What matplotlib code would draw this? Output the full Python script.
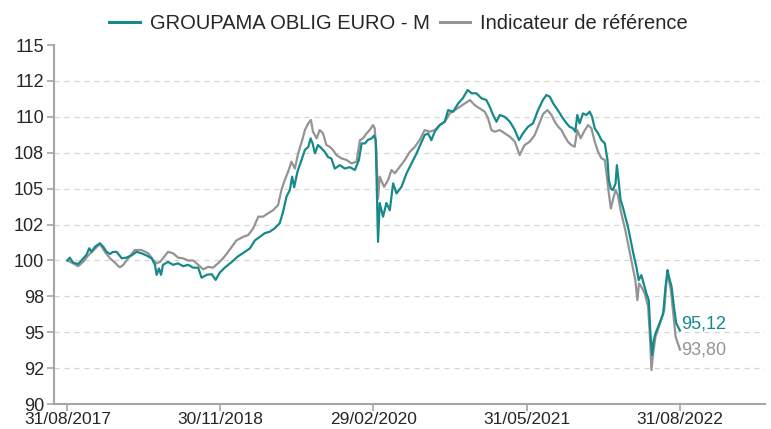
import matplotlib
matplotlib.use('Agg')
import matplotlib.pyplot as plt
import pandas as pd

plt.rcParams['font.family'] = ['Liberation Sans', 'DejaVu Sans']

# ── Colours ──────────────────────────────────────────────
fund_color = '#168a8a'
bench_color = '#949494'
axis_color = '#a6a6a6'
grid_color = '#d4d4d4'
text_color = '#262626'

# ── Data (base 100 at 31/08/2017, day offsets from start) ─
start_date = '2017-08-31'

fund_days = [
    0, 7, 17, 32, 42, 57, 65, 72, 82, 97, 107, 117, 127, 136, 147, 162, 176,
    191, 206, 221, 236, 251, 261, 266, 273, 279, 285, 300, 315, 330, 345, 360,
    375, 390, 400, 415, 430, 442, 454, 469, 490, 507, 529, 544, 559, 574, 588,
    603, 618, 633, 643, 653, 663, 670, 676, 686, 698, 708, 718, 725, 731, 738,
    747, 758, 767, 777, 787, 797, 812, 827, 842, 857, 869, 877, 887, 896, 907,
    914, 919, 923, 926, 931, 941, 951, 961, 971, 981, 996, 1011, 1026, 1041,
    1056, 1065, 1075, 1085, 1095, 1110, 1125, 1135, 1150, 1165, 1179, 1193,
    1205, 1219, 1234, 1249, 1259, 1269, 1279, 1289, 1304, 1319, 1334, 1346,
    1358, 1373, 1388, 1403, 1418, 1428, 1438, 1448, 1458, 1468, 1477, 1488,
    1497, 1507, 1514, 1520, 1527, 1537, 1547, 1557, 1564, 1572, 1582, 1592,
    1602, 1610, 1614, 1620, 1626, 1634, 1638, 1643, 1649, 1656, 1663, 1671,
    1679, 1687, 1696, 1703, 1711, 1719, 1726, 1733, 1738, 1743, 1748, 1753,
    1761, 1769, 1776, 1783, 1789, 1793, 1801, 1808, 1815, 1826,
]
fund_values = [
    100.00, 100.20, 99.85, 99.75, 100.00, 100.40, 100.85, 100.60, 100.95,
    101.20, 100.95, 100.60, 100.45, 100.60, 100.60, 100.15, 100.20, 100.35,
    100.60, 100.50, 100.35, 100.15, 99.70, 99.00, 99.45, 99.00, 99.70, 99.90,
    99.70, 99.80, 99.60, 99.70, 99.50, 99.50, 98.80, 99.00, 99.05, 98.65,
    99.15, 99.50, 99.90, 100.26, 100.60, 100.84, 101.40, 101.65, 101.90,
    102.00, 102.24, 102.60, 103.40, 104.44, 104.90, 105.83, 105.10, 106.20,
    107.00, 107.70, 107.90, 108.50, 108.15, 107.46, 108.04, 107.80, 107.57,
    107.20, 107.10, 106.40, 106.64, 106.40, 106.50, 106.30, 107.00, 108.15,
    108.15, 108.40, 108.50, 108.70, 108.40, 104.20, 101.30, 104.00, 103.05,
    104.00, 103.50, 105.37, 104.67, 105.13, 106.07, 106.76, 107.46, 108.27,
    108.73, 108.85, 108.38, 108.97, 109.43, 109.66, 110.47, 110.36, 110.94,
    111.30, 111.87, 111.64, 111.64, 111.30, 111.17, 110.70, 110.13, 109.66,
    110.13, 110.00, 109.66, 109.08, 108.38, 108.85, 109.31, 109.55, 110.47,
    111.20, 111.52, 111.40, 110.94, 110.60, 110.24, 109.90, 109.55, 109.31,
    109.20, 108.97, 110.13, 109.55, 110.24, 110.13, 110.36, 110.00, 109.20,
    108.85, 108.38, 108.15, 107.00, 105.60, 105.00, 104.90, 105.37, 106.64,
    105.60, 104.20, 103.70, 103.05, 102.35, 101.40, 100.49, 99.56, 98.63,
    98.98, 98.29, 97.70, 97.24, 94.92, 93.41, 94.46, 94.92, 95.38, 95.85,
    96.31, 98.17, 99.33, 98.87, 98.17, 96.78, 95.62, 95.12,
]

bench_days = [
    0, 17, 32, 47, 62, 77, 97, 112, 127, 142, 156, 166, 181, 201, 221, 241,
    256, 266, 276, 285, 300, 315, 330, 345, 360, 375, 390, 405, 420, 434, 449,
    464, 479, 504, 524, 539, 554, 569, 583, 598, 613, 628, 638, 648, 658, 668,
    678, 688, 700, 708, 718, 726, 732, 743, 752, 762, 772, 782, 792, 802, 817,
    832, 847, 862, 872, 881, 892, 901, 911, 916, 921, 926, 931, 944, 956, 966,
    976, 991, 1006, 1021, 1036, 1050, 1065, 1080, 1095, 1110, 1125, 1140,
    1155, 1170, 1185, 1200, 1214, 1229, 1244, 1254, 1264, 1274, 1289, 1304,
    1319, 1334, 1348, 1363, 1378, 1393, 1408, 1418, 1431, 1443, 1453, 1463,
    1473, 1483, 1492, 1502, 1512, 1520, 1530, 1540, 1552, 1562, 1572, 1582,
    1592, 1602, 1607, 1614, 1620, 1626, 1634, 1641, 1649, 1656, 1663, 1671,
    1679, 1687, 1693, 1699, 1704, 1711, 1721, 1731, 1736, 1741, 1746, 1753,
    1763, 1771, 1779, 1786, 1791, 1799, 1806, 1813, 1826,
]
bench_values = [
    100.00, 99.80, 99.60, 99.90, 100.35, 100.70, 101.15, 100.60, 100.15,
    99.85, 99.52, 99.68, 100.15, 100.73, 100.73, 100.50, 100.03, 99.80, 99.90,
    100.15, 100.60, 100.50, 100.20, 100.15, 100.00, 100.00, 99.70, 99.38,
    99.56, 99.50, 99.80, 100.15, 100.60, 101.40, 101.65, 101.77, 102.24,
    103.05, 103.05, 103.28, 103.50, 103.86, 104.90, 105.60, 106.18, 106.88,
    106.40, 107.46, 108.38, 109.08, 109.55, 109.78, 108.97, 108.50, 109.08,
    108.85, 108.04, 107.92, 107.69, 107.34, 107.11, 107.00, 106.76, 106.88,
    108.38, 108.50, 108.85, 109.08, 109.43, 109.20, 107.69, 104.30, 105.83,
    105.13, 105.60, 106.30, 106.07, 106.53, 107.00, 107.57, 107.92, 108.38,
    109.08, 108.97, 109.08, 109.43, 109.66, 110.24, 110.47, 110.70, 110.94,
    111.17, 110.82, 110.59, 110.36, 109.90, 109.08, 108.97, 109.08, 108.85,
    108.62, 108.27, 107.34, 108.04, 108.27, 108.73, 109.60, 110.20, 110.47,
    110.13, 109.66, 109.31, 109.08, 108.62, 108.27, 108.04, 107.92, 109.08,
    108.50, 108.97, 109.43, 109.20, 108.27, 107.57, 107.11, 107.00, 106.07,
    104.67, 103.62, 104.20, 104.90, 104.56, 103.50, 102.81, 102.12, 101.18,
    100.26, 99.33, 98.63, 97.24, 98.40, 98.17, 97.70, 96.78, 94.92, 92.37,
    93.53, 94.69, 95.38, 95.97, 96.54, 98.63, 98.87, 97.94, 96.31, 94.69,
    93.80,
]

fund_label = 'GROUPAMA OBLIG EURO - M'
bench_label = 'Indicateur de référence'

x_tick_dates = ['2017-08-31', '2018-11-30', '2020-02-29', '2021-05-31', '2022-08-31']
x_tick_labels = ['31/08/2017', '30/11/2018', '29/02/2020', '31/05/2021', '31/08/2022']
y_ticks = [90, 92.5, 95, 97.5, 100, 102.5, 105, 107.5, 110, 112.5, 115]
y_tick_labels = ['90', '92', '95', '98', '100', '102', '105', '108', '110', '112', '115']

t0 = pd.Timestamp(start_date)
fund_dates = t0 + pd.to_timedelta(fund_days, unit='D')
bench_dates = t0 + pd.to_timedelta(bench_days, unit='D')

# ── Figure ───────────────────────────────────────────────
fig = plt.figure(figsize=(7.71, 4.29), dpi=100, facecolor='white')
ax = fig.add_axes([0.070, 0.058, 0.922, 0.837])

# dashed horizontal guides (none on the frame edges)
for yv in y_ticks[1:-1]:
    ax.axhline(yv, color=grid_color, linestyle=(0, (4, 4)), linewidth=0.9, zorder=0)

ax.plot(bench_dates, bench_values, color=bench_color, linewidth=1.6,
        label=bench_label, zorder=2)
ax.plot(fund_dates, fund_values, color=fund_color, linewidth=1.6,
        label=fund_label, zorder=3)

# last values written next to the line ends
ax.annotate(f'{fund_values[-1]:.2f}'.replace('.', ','),
            xy=(fund_dates[-1], fund_values[-1]), xytext=(1, 5),
            textcoords='offset points', ha='left', va='center',
            color=fund_color, fontsize=13)
ax.annotate(f'{bench_values[-1]:.2f}'.replace('.', ','),
            xy=(bench_dates[-1], bench_values[-1]), xytext=(1, 0),
            textcoords='offset points', ha='left', va='center',
            color=bench_color, fontsize=13)

# ── Axes ─────────────────────────────────────────────────
ax.set_xlim(t0 - pd.Timedelta(days=40), t0 + pd.Timedelta(days=2079))
ax.set_ylim(90, 115)
ax.set_xticks(pd.to_datetime(x_tick_dates))
ax.set_xticklabels(x_tick_labels)
ax.set_yticks(y_ticks)
ax.set_yticklabels(y_tick_labels)
ax.tick_params(axis='both', colors=axis_color, labelcolor=text_color,
               length=5, width=1.2, direction='out')
ax.tick_params(axis='y', labelsize=13, pad=2)
ax.tick_params(axis='x', labelsize=12.5, pad=1)

for side in ['top', 'right']:
    ax.spines[side].set_visible(False)
for side in ['left', 'bottom']:
    ax.spines[side].set_color(axis_color)
    ax.spines[side].set_linewidth(1.5)

# ── Legend ───────────────────────────────────────────────
handles, labels = ax.get_legend_handles_labels()
leg = fig.legend(handles[::-1], labels[::-1], loc='upper center',
                 bbox_to_anchor=(0.517, 1.01), ncol=2, frameon=False,
                 fontsize=14.5, handlelength=1.5, handletextpad=0.5,
                 columnspacing=0.5)
for line in leg.get_lines():
    line.set_linewidth(2.2)
for txt in leg.get_texts():
    txt.set_color(text_color)

fig.savefig('out.png', dpi=100, facecolor='white')
